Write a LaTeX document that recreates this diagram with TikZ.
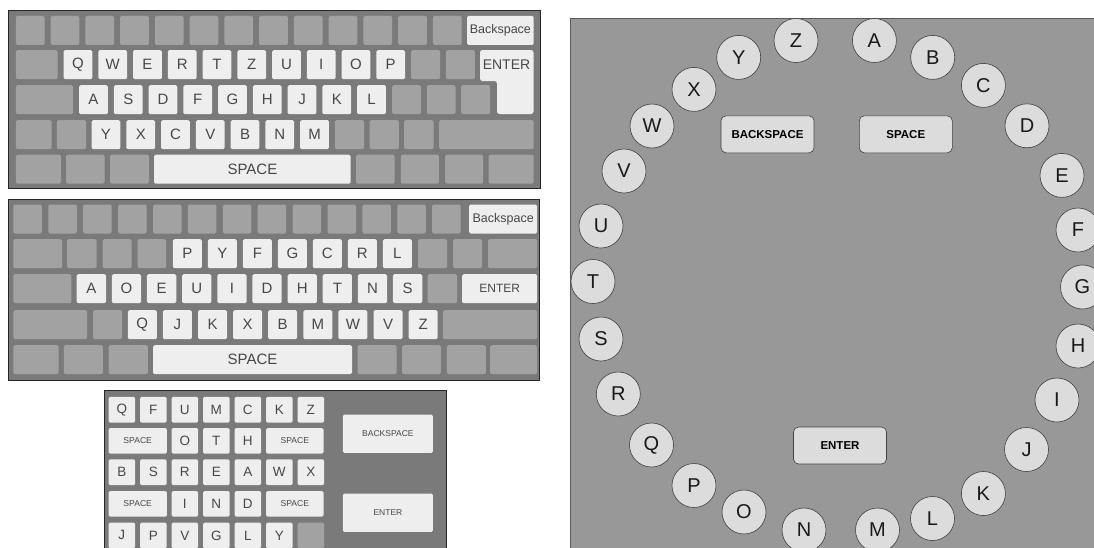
\documentclass[tikz,border=0pt]{standalone}
\usepackage{fontspec}
\setmainfont{Liberation Sans}
\definecolor{kbback}{HTML}{7A7A7A}
\definecolor{keydim}{HTML}{A2A2A2}
\definecolor{keylit}{HTML}{EEEEEE}
\definecolor{keyink}{HTML}{474747}
\definecolor{ringback}{HTML}{989898}
\definecolor{ballgrey}{HTML}{DCDCDC}
\begin{document}
\begin{tikzpicture}[x=1pt, y=-1pt,
    panel/.style={draw=black!85, line width=1.4pt, fill=kbback, anchor=north west, inner sep=0pt},
    key/.style={rectangle, anchor=north west, inner sep=0pt, rounded corners=1.5pt, text=keyink, minimum height=29pt, font=\fontsize{15}{15}\selectfont},
    keyon/.style={key, fill=keylit},
    keyoff/.style={key, fill=keydim},
    gkey/.style={keyon, minimum height=25.7pt, minimum width=26.7pt, font=\fontsize{13.5}{14}\selectfont},
    gsmall/.style={gkey, font=\fontsize{8.6}{9}\selectfont},
    gcmd/.style={keyon, minimum width=90pt, minimum height=38.4pt, font=\fontsize{8.5}{9}\selectfont},
    ball/.style={circle, inner sep=0pt, minimum size=44pt, fill=ballgrey, draw=black!75, line width=0.6pt, text=black!90, font=\fontsize{20}{20}\selectfont},
    cmdkey/.style={rectangle, rounded corners=5pt, inner sep=0pt, minimum width=93pt, minimum height=37pt, fill=ballgrey, draw=black!75, line width=0.6pt, font=\bfseries\fontsize{11.5}{12}\selectfont}]
  \clip (0,0) rectangle (1094,547);
  \fill[white] (0,0) rectangle (1094,547);

  % QWERTZ keyboard
  \node[panel, minimum width=532pt, minimum height=178pt] (qwerty) at (8,10) {};
  \foreach \i in {0,...,12}
    \node[keyoff, minimum width=28.8pt] (q1k\i) at ({15.6+34.76*\i},15.7) {};
  \node[keyon, minimum width=66.7pt, font=\fontsize{12.5}{13}\selectfont] (qBack) at (466.8,15.7) {Backspace};
  \foreach \x/\w [count=\i] in {15.6/41.8, 411/29, 445.6/29}
    \node[keyoff, minimum width=\w pt] (q2k\i) at (\x,50) {};
  \foreach \l [count=\i from 0] in {Q,W,E,R,T,Z,U,I,O,P}
    \node[keyon, minimum width=28.8pt] (q\l) at ({63.3+34.76*\i},50) {\l};
  \fill[keylit, rounded corners=2.5pt] (480,50) -- (533.5,50) -- (533.5,114) -- (497,114) -- (497,81) -- (480,81) -- cycle;
  \node[text=keyink, font=\fontsize{14}{14}\selectfont] (qEnter) at (506.5,64.5) {ENTER};
  \foreach \x/\w [count=\i] in {15.6/57.4, 392/28.6, 426.6/28.7, 461/29}
    \node[keyoff, minimum width=\w pt] (q3k\i) at (\x,85) {};
  \foreach \l [count=\i from 0] in {A,S,D,F,G,H,J,K,L}
    \node[keyon, minimum width=28.8pt] (q\l) at ({78.9+34.76*\i},85) {\l};
  \foreach \x/\w [count=\i] in {15.6/35.8, 56.7/29.2, 334.7/29.3, 369.5/29.2, 404/29.4, 439/94.5}
    \node[keyoff, minimum width=\w pt] (q4k\i) at (\x,120) {};
  \foreach \l [count=\i from 0] in {Y,X,C,V,B,N,M}
    \node[keyon, minimum width=28.8pt] (q\l) at ({91.4+34.76*\i},120) {\l};
  \foreach \x/\w [count=\i] in {15.6/45.2, 66/38.3, 110/38.8, 356/38.5, 400.6/38, 445/38, 488.4/45.1}
    \node[keyoff, minimum width=\w pt] (q5k\i) at (\x,154.5) {};
  \node[keyon, minimum width=196.4pt] (qSpace) at (154,154.5) {SPACE};

  % Dvorak keyboard
  \node[panel, minimum width=531pt, minimum height=181pt] (dvorak) at (8,199) {};
  \foreach \i in {0,...,12}
    \node[keyoff, minimum width=28.5pt] (d1k\i) at ({13.2+34.9*\i},204.3) {};
  \node[keyon, minimum width=68pt, font=\fontsize{12.5}{13}\selectfont] (dBack) at (469,204.3) {Backspace};
  \foreach \x/\w [count=\i] in {13.2/48.7, 67/29.3, 102.5/29, 137.3/28.7, 418/29, 453/29, 488/49}
    \node[keyoff, minimum width=\w pt] (d2k\i) at (\x,239) {};
  \foreach \l [count=\i from 0] in {P,Y,F,G,C,R,L}
    \node[keyon, minimum width=28.9pt] (d\l) at ({172.7+35*\i},239) {\l};
  \foreach \x/\w [count=\i] in {13.2/58, 427.5/29.5}
    \node[keyoff, minimum width=\w pt] (d3k\i) at (\x,274) {};
  \foreach \l [count=\i from 0] in {A,O,E,U,I,D,H,T,N,S}
    \node[keyon, minimum width=29.3pt] (d\l) at ({76.5+35.14*\i},274) {\l};
  \node[keyon, minimum width=75pt, font=\fontsize{12}{12}\selectfont] (dEnter) at (462,274) {ENTER};
  \foreach \x/\w [count=\i] in {13.2/73.7, 92.8/29, 443/94}
    \node[keyoff, minimum width=\w pt] (d4k\i) at (\x,310) {};
  \foreach \l [count=\i from 0] in {Q,J,K,X,B,M,W,V,Z}
    \node[keyon, minimum width=29pt] (d\l) at ({127.6+35.1*\i},310) {\l};
  \foreach \x/\w [count=\i] in {13.2/45.2, 63.6/39, 108.4/39.3, 357.3/39, 402/38.7, 446.6/39, 490/47}
    \node[keyoff, minimum width=\w pt] (d5k\i) at (\x,345) {};
  \node[keyon, minimum width=198.8pt] (dSpace) at (153,345) {SPACE};

  % grid keyboard
  \node[panel, minimum width=342pt, minimum height=170pt] (grid) at (104,390) {};
  \foreach \l [count=\i from 0] in {Q,F,U,M,C,K,Z}
    \node[gkey] (g\l) at ({108.3+31.5*\i},396.7) {\l};
  \foreach \l [count=\i from 2] in {O,T,H}
    \node[gkey] (g\l) at ({108.3+31.5*\i},427.8) {\l};
  \node[gsmall, minimum width=58.4pt] (gSpaceA) at (108.3,427.8) {SPACE};
  \node[gsmall, minimum width=57.3pt] (gSpaceB) at (266,427.8) {SPACE};
  \foreach \l [count=\i from 0] in {B,S,R,E,A,W,X}
    \node[gkey] (g\l) at ({108.3+31.5*\i},459.2) {\l};
  \foreach \l [count=\i from 2] in {I,N,D}
    \node[gkey] (g\l) at ({108.3+31.5*\i},490.8) {\l};
  \node[gsmall, minimum width=58.4pt] (gSpaceC) at (108.3,490.8) {SPACE};
  \node[gsmall, minimum width=57.3pt] (gSpaceD) at (266,490.8) {SPACE};
  \foreach \l [count=\i from 0] in {J,P,V,G,L,Y}
    \node[gkey] (g\l) at ({108.3+31.5*\i},522.3) {\l};
  \node[gkey, fill=keydim] (gEmpty) at (297.3,522.3) {};
  \node[gcmd] (gBack) at (342.7,414.3) {BACKSPACE};
  \node[gcmd] (gEnter) at (342.7,493.3) {ENTER};

  % circular layout
  \node[panel, fill=ringback, draw=black!65, line width=1.2pt, minimum width=530pt, minimum height=535pt] (ring) at (570,17.5) {};
  \foreach \l/\x/\y in {A/874.4/40.5, B/932.7/57.4, C/983.4/85.4, D/1027/125.8, E/1062/175.4,
      F/1078/230, G/1082.5/287, H/1078/346, I/1057/400, J/1026.5/449.5, K/983.4/493.5,
      L/932.5/518.5, M/877.5/530, N/804/530, O/744/512, P/694/485.5, Q/651.5/445,
      R/618.3/394, S/601/339, T/593/281.5, U/601/226, V/624/171, W/652/126, X/694/89.4,
      Y/738.7/57.4, Z/796/40.5}
    \node[ball] (c\l) at (\x,\y) {\l};
  \node[cmdkey] (cBack) at (767.5,134.3) {BACKSPACE};
  \node[cmdkey] (cSpace) at (905.8,134.3) {SPACE};
  \node[cmdkey] (cEnter) at (840,445.5) {ENTER};
\end{tikzpicture}
\end{document}
